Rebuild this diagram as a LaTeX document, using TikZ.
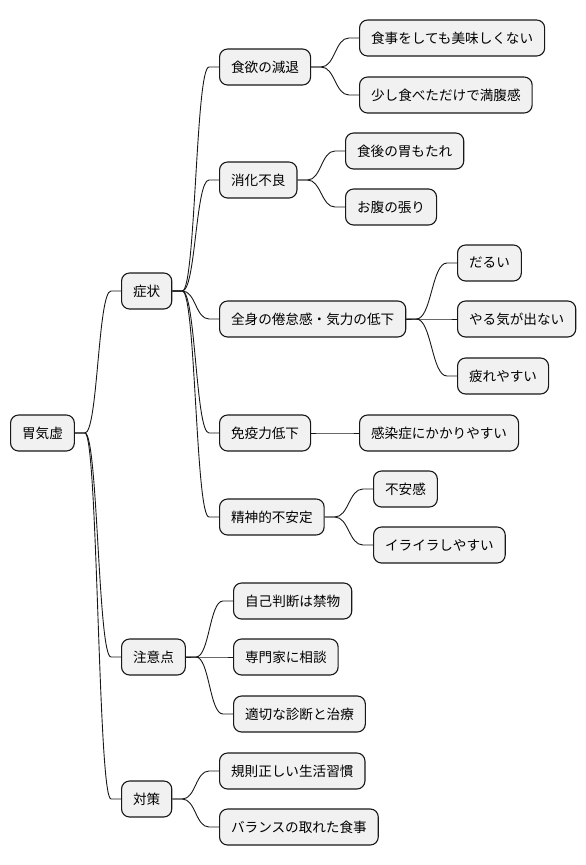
\documentclass[tikz,border=0pt]{standalone}
\usepackage{fontspec}
\setmainfont{Noto Sans CJK JP}
\usetikzlibrary{calc}
\definecolor{boxfill}{HTML}{F1F1F1}
\definecolor{boxline}{HTML}{181818}
\tikzset{
  mm/.style={draw=boxline, fill=boxfill, rounded corners=8pt, line width=1.1pt,
    minimum height=36pt, inner xsep=11.5pt, anchor=west, text=black,
    font=\fontsize{13.6}{16}\selectfont},
  link/.style={draw=boxline, line width=0.9pt}
}
\newcommand\mmlink[2]{%
  \path ($(#1.east)!.5!(#2.west)$) coordinate (mid);
  \draw[link] (#1.east) -- ++(10,0) .. controls (mid |- #1.east) and (mid |- #2.west) .. ($(#2.west)+(-10,0)$) -- (#2.west);
}
\begin{document}
\begin{tikzpicture}[x=1pt,y=-1pt]
\useasboundingbox (0,0) rectangle (586,865);
\node[mm] (r) at (10,433) {胃気虚};
\node[mm] (a) at (121,291) {症状};
\node[mm] (b) at (121,657) {注意点};
\node[mm] (c) at (121,799) {対策};
\node[mm] (a1) at (219,67) {食欲の減退};
\node[mm] (a2) at (219,180) {消化不良};
\node[mm] (a3) at (219,319) {全身の倦怠感・気力の低下};
\node[mm] (a4) at (219,433) {免疫力低下};
\node[mm] (a5) at (219,517) {精神的不安定};
\node[mm] (a11) at (359,38) {食事をしても美味しくない};
\node[mm] (a12) at (359,95) {少し食べただけで満腹感};
\node[mm] (a21) at (345,151) {食後の胃もたれ};
\node[mm] (a22) at (345,207) {お腹の張り};
\node[mm] (a31) at (457,263) {だるい};
\node[mm] (a32) at (457,319) {やる気が出ない};
\node[mm] (a33) at (457,376) {疲れやすい};
\node[mm] (a41) at (359,433) {感染症にかかりやすい};
\node[mm] (a51) at (373,489) {不安感};
\node[mm] (a52) at (373,545) {イライラしやすい};
\node[mm] (b1) at (233,601) {自己判断は禁物};
\node[mm] (b2) at (233,657) {専門家に相談};
\node[mm] (b3) at (233,714) {適切な診断と治療};
\node[mm] (c1) at (219,771) {規則正しい生活習慣};
\node[mm] (c2) at (219,827) {バランスの取れた食事};
\mmlink{r}{a}\mmlink{r}{b}\mmlink{r}{c}
\mmlink{a}{a1}\mmlink{a}{a2}\mmlink{a}{a3}\mmlink{a}{a4}\mmlink{a}{a5}
\mmlink{a1}{a11}\mmlink{a1}{a12}
\mmlink{a2}{a21}\mmlink{a2}{a22}
\mmlink{a3}{a31}\mmlink{a3}{a32}\mmlink{a3}{a33}
\mmlink{a4}{a41}
\mmlink{a5}{a51}\mmlink{a5}{a52}
\mmlink{b}{b1}\mmlink{b}{b2}\mmlink{b}{b3}
\mmlink{c}{c1}\mmlink{c}{c2}
\end{tikzpicture}
\end{document}
